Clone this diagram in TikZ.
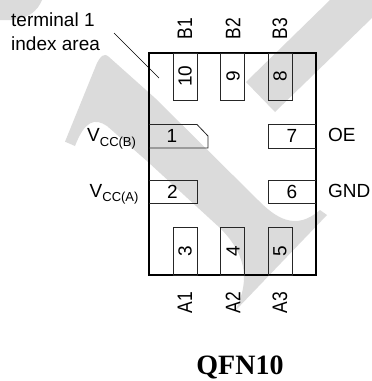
\documentclass[tikz,border=0pt]{standalone}
\usepackage{fontspec}
\setmainfont{Liberation Sans}
\newfontfamily\titlefont{Liberation Serif}
\newcommand{\pinname}[1]{\scalebox{0.83}[1]{#1}}
\tikzset{
  x=1pt,y=-1pt,
  mark area/.style={fill=black!14,draw=none},
  body box/.style={draw=black,line width=1.8pt},
  padbox/.style={draw=black!85,line width=0.8pt},
  padnum/.style={font=\fontsize{19}{19}\selectfont,inner sep=0pt},
  sidelabel/.style={font=\fontsize{19}{19}\selectfont,inner sep=0pt},
  pinlabel/.style={font=\fontsize{21}{21}\selectfont,inner sep=0pt,rotate=90},
}
\begin{document}
\begin{tikzpicture}
\useasboundingbox (0,0) rectangle (372,381);
% background watermark
\fill[mark area] (42,0) .. controls (38,10) and (28,22) .. (0,20) -- (0,0) -- cycle;
\fill[mark area] (330,0) -- (372,0) -- (372,18) -- (275,112) -- (246,82) -- cycle;
\fill[mark area] (65,141.7) -- (97,63) .. controls (100,57) and (104,52) .. (109,57)
  -- (155,98) -- (258,200) .. controls (275,217) and (295,232) .. (320,210) -- (327,215)
  -- (235,311) .. controls (248,285) and (250,258) .. (220,228)
  -- (148,162) -- (107,126) .. controls (95,118) and (85,120) .. (75,146) -- cycle;
% body
\draw[body box] (149,53) rectangle (316,275);
% top pads
\draw[padbox] (173,53) rectangle (197,100);
\draw[padbox] (220.5,53) rectangle (244.5,100);
\draw[padbox] (268.5,53) rectangle (292,100);
% bottom pads
\draw[padbox] (173,227) rectangle (197,275);
\draw[padbox] (220.5,227) rectangle (244.5,275);
\draw[padbox] (268.5,227) rectangle (292,275);
% side pads
\draw[padbox] (149,124.5) -- (197,124.5) -- (208,136) -- (208,148) -- (149,148);
\draw[padbox] (149,180) -- (197,180) -- (197,203) -- (149,203);
\draw[padbox] (316,124.5) -- (268.5,124.5) -- (268.5,148) -- (316,148);
\draw[padbox] (316,180) -- (268.5,180) -- (268.5,203) -- (316,203);
% numbers
\node[padnum,rotate=90] (n10) at (185,76) {10};
\node[padnum,rotate=90] (n9) at (233,76) {9};
\node[padnum,rotate=90] (n8) at (280,76) {8};
\node[padnum,rotate=90] (n3) at (185,251) {3};
\node[padnum,rotate=90] (n4) at (233,251) {4};
\node[padnum,rotate=90] (n5) at (280,251) {5};
\node[padnum] (n1) at (172,136) {1};
\node[padnum] (n2) at (172.5,191.5) {2};
\node[padnum] (n7) at (292,136) {7};
\node[padnum] (n6) at (292,191.5) {6};
% pin labels
\node[pinlabel,anchor=west] (b1) at (185,39.5) {\pinname{B1}};
\node[pinlabel,anchor=west] (b2) at (233,39.5) {\pinname{B2}};
\node[pinlabel,anchor=west] (b3) at (280,39.5) {\pinname{B3}};
\node[pinlabel,anchor=east] (a1) at (185,291.5) {\pinname{A1}};
\node[pinlabel,anchor=east] (a2) at (233,291.5) {\pinname{A2}};
\node[pinlabel,anchor=east] (a3) at (280,291.5) {\pinname{A3}};
% side labels
\node[sidelabel,anchor=base west] (vccb) at (87,141.5) {V\raisebox{-0.25em}{\fontsize{13}{13}\selectfont CC(B)}};
\node[sidelabel,anchor=base west] (vcca) at (89.5,197) {V\raisebox{-0.25em}{\fontsize{13}{13}\selectfont CC(A)}};
\node[sidelabel,anchor=base west] (oe) at (328,141.5) {OE};
\node[sidelabel,anchor=base west] (gnd) at (328,197) {GND};
\node[sidelabel,anchor=base west] (t1) at (11,26.7) {terminal 1};
\node[sidelabel,anchor=base west] (t2) at (11,50.7) {index area};
\coordinate (leadA) at (114,33);
\coordinate (leadB) at (159,78);
\draw[black,line width=0.7pt] (leadA) -- (leadB);
\node[font=\titlefont\bfseries\fontsize{28}{28}\selectfont,inner sep=0pt,anchor=base] (title) at (240,374) {QFN10};
\end{tikzpicture}
\end{document}
